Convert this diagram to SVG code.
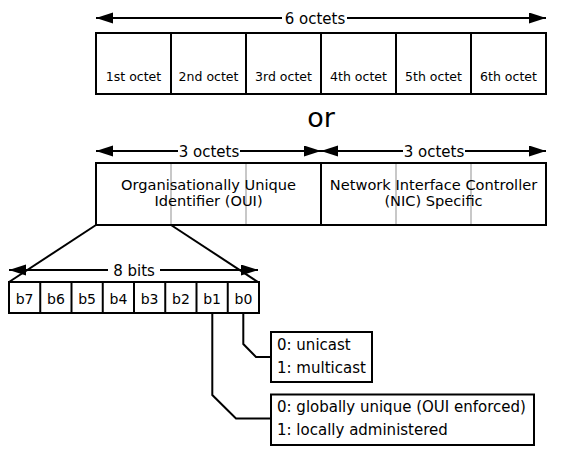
<svg xmlns="http://www.w3.org/2000/svg" width="568" height="458" viewBox="0 0 568 458">
<style>
text{font-family:"DejaVu Sans","Liberation Sans",sans-serif;fill:#000}
.box{fill:#fff;stroke:#000;stroke-width:2}
.ln{fill:none;stroke:#000;stroke-width:2}
.gray{stroke:#c8c8c8;stroke-width:2}
.oct{font-size:12.5px;text-anchor:middle}
.lbl{font-size:15px;text-anchor:middle}
.two{font-size:14.6px;text-anchor:middle}
.bit{font-size:14px;text-anchor:middle}
.leg{font-size:15px}
.arr{fill:none;stroke:#000;stroke-width:2;marker-end:url(#ah)}
</style>
<defs>
<marker id="ah" markerUnits="userSpaceOnUse" markerWidth="18" markerHeight="12" refX="17" refY="5.5" orient="auto">
<path d="M0,0 L17,5.5 L0,11 Z" fill="#000"/>
</marker>
</defs>
<rect width="568" height="458" fill="#fff"/>

<g id="connectors">
<line class="arr" x1="282" y1="18" x2="96" y2="18"/>
<line class="arr" x1="347" y1="18" x2="546" y2="18"/>
<line class="arr" x1="178" y1="151" x2="96" y2="151"/>
<line class="arr" x1="240" y1="151" x2="321" y2="151"/>
<line class="arr" x1="403" y1="151" x2="321" y2="151"/>
<line class="arr" x1="465" y1="151" x2="546" y2="151"/>
<line class="ln" x1="96" y1="225" x2="9" y2="282"/>
<line class="ln" x1="171" y1="225" x2="258" y2="282"/>
<line class="arr" x1="108" y1="270" x2="9" y2="270"/>
<line class="arr" x1="160" y1="270" x2="258" y2="270"/>
<polyline class="ln" points="243.3,313 243.3,344 256,357 271,357"/>
<polyline class="ln" points="212.3,313 212.3,395 236,418.5 271,418.5"/>
</g>

<g id="labels">
<text class="lbl" x="315" y="23.5">6 octets</text>
<text x="321" y="127" font-size="27" text-anchor="middle">or</text>
<text class="lbl" x="209" y="156.5">3 octets</text>
<text class="lbl" x="434" y="156.5">3 octets</text>
<text class="lbl" x="134" y="275.5">8 bits</text>
</g>

<g id="mac-octets">
<rect class="box" x="96" y="33" width="450" height="61"/>
<line class="ln" x1="171" y1="33" x2="171" y2="94"/>
<line class="ln" x1="246" y1="33" x2="246" y2="94"/>
<line class="ln" x1="321" y1="33" x2="321" y2="94"/>
<line class="ln" x1="396" y1="33" x2="396" y2="94"/>
<line class="ln" x1="471" y1="33" x2="471" y2="94"/>
<text class="oct" x="133.5" y="81">1st octet</text>
<text class="oct" x="208.5" y="81">2nd octet</text>
<text class="oct" x="283.5" y="81">3rd octet</text>
<text class="oct" x="358.5" y="81">4th octet</text>
<text class="oct" x="433.5" y="81">5th octet</text>
<text class="oct" x="508.5" y="81">6th octet</text>
</g>

<g id="oui">
<rect class="box" x="96" y="163" width="225" height="62"/>
<line class="gray" x1="171" y1="164" x2="171" y2="224"/>
<line class="gray" x1="246" y1="164" x2="246" y2="224"/>
<text class="two" x="208.5" y="189.5">Organisationally Unique</text>
<text class="two" x="208.5" y="206">Identifier (OUI)</text>
</g>

<g id="nic">
<rect class="box" x="321" y="163" width="225" height="62"/>
<line class="gray" x1="396" y1="164" x2="396" y2="224"/>
<line class="gray" x1="471" y1="164" x2="471" y2="224"/>
<text class="two" x="433.5" y="189.5">Network Interface Controller</text>
<text class="two" x="433.5" y="206">(NIC) Specific</text>
</g>

<g id="bits">
<rect class="box" x="9" y="282" width="250" height="31"/>
<line class="ln" x1="40.25" y1="282" x2="40.25" y2="313"/>
<line class="ln" x1="71.5" y1="282" x2="71.5" y2="313"/>
<line class="ln" x1="102.75" y1="282" x2="102.75" y2="313"/>
<line class="ln" x1="134" y1="282" x2="134" y2="313"/>
<line class="ln" x1="165.25" y1="282" x2="165.25" y2="313"/>
<line class="ln" x1="196.5" y1="282" x2="196.5" y2="313"/>
<line class="ln" x1="227.75" y1="282" x2="227.75" y2="313"/>
<text class="bit" x="24.6" y="303.5">b7</text>
<text class="bit" x="55.9" y="303.5">b6</text>
<text class="bit" x="87.1" y="303.5">b5</text>
<text class="bit" x="118.4" y="303.5">b4</text>
<text class="bit" x="149.6" y="303.5">b3</text>
<text class="bit" x="180.9" y="303.5">b2</text>
<text class="bit" x="212.1" y="303.5">b1</text>
<text class="bit" x="243.4" y="303.5">b0</text>
</g>

<g id="cast-legend">
<rect class="box" x="271" y="332" width="101" height="50"/>
<text class="leg" x="277" y="350">0: unicast</text>
<text class="leg" x="277" y="373">1: multicast</text>
</g>

<g id="admin-legend">
<rect class="box" x="271" y="394.5" width="263" height="50.5"/>
<text class="leg" x="277" y="412">0: globally unique (OUI enforced)</text>
<text class="leg" x="277" y="435">1: locally administered</text>
</g>
</svg>
